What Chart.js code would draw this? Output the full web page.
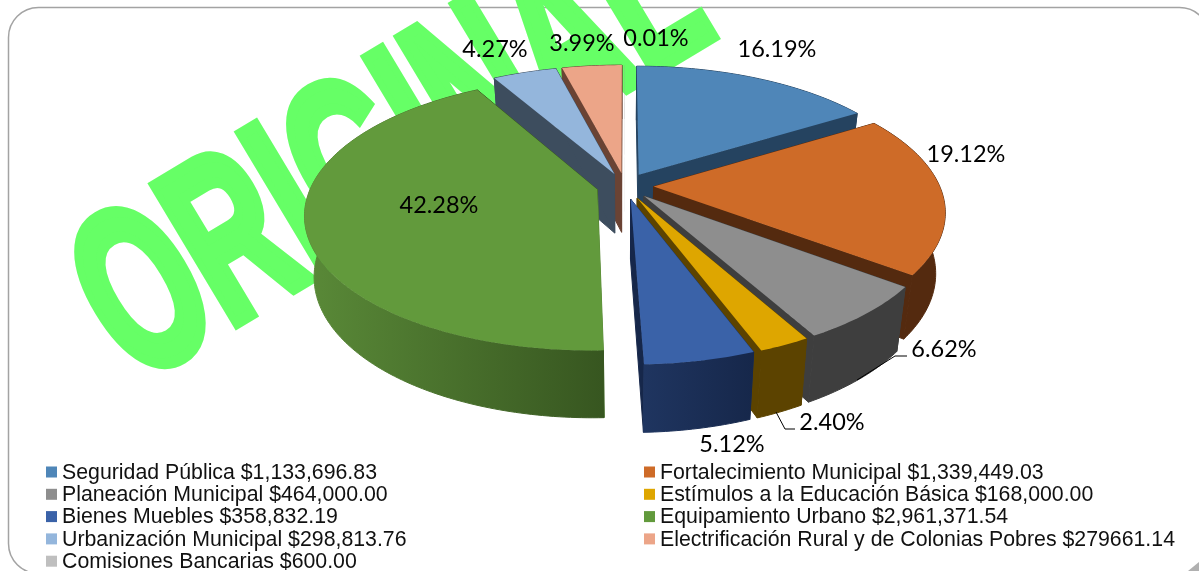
<!DOCTYPE html>
<html>
<head>
<meta charset="utf-8">
<title>Distribución</title>
<script src="https://cdn.jsdelivr.net/npm/chart.js@4"></script>
<style>
  html, body { margin: 0; padding: 0; background: #fff; overflow: hidden; }
  canvas { display: block; }
</style>
</head>
<body>
<canvas id="pie3d" width="1199" height="571"></canvas>
<script>
const categories = ['Seguridad Pública', 'Fortalecimiento Municipal', 'Planeación Municipal', 'Estímulos a la Educación Básica', 'Bienes Muebles', 'Equipamiento Urbano', 'Urbanización Municipal', 'Electrificación Rural y de Colonias Pobres', 'Comisiones Bancarias'];
const amounts = [1133696.83, 1339449.03, 464000.00, 168000.00, 358832.19, 2961371.54, 298813.76, 279661.14, 600.00];
const amountLabels = ['$1,133,696.83', '$1,339,449.03', '$464,000.00', '$168,000.00', '$358,832.19', '$2,961,371.54', '$298,813.76', '$279661.14', '$600.00'];

const topColors = ['#4f86b8', '#ce6b28', '#8e8e8e', '#dea600', '#3a62a8', '#629a3c', '#94b6dc', '#eca588', '#bfbfbf'];
const wallColors = ['#254360', '#542a0f', '#3e3e3e', '#5c4300', '#1f3560', '#5a8a38', '#3d4d5e', '#6a4334', '#6a6a6a'];
const wallDarkColors = ['#254360', '#542a0f', '#3e3e3e', '#5c4300', '#16274a', '#375620', '#3d4d5e', '#6a4334', '#6a6a6a'];

// posicion de cada etiqueta de porcentaje
const labelX = [777, 966, 944, 832, 732, 439, 495, 582, 656];
const labelY = [49, 154, 349, 422, 444, 205, 49, 43, 38];

// proyeccion del disco con perspectiva
const cx = 625, cy = 186, Rx = 286, Ry = 131.2, persp = 0.1755, explode = 0.1;
const total = amounts.reduce(function (a, b) { return a + b; }, 0);

function project(angle, r, mid) {
    const u = Math.cos(angle) * r + Math.cos(mid) * explode;
    const v = Math.sin(angle) * r + Math.sin(mid) * explode;
    const d = 1 - persp * v;
    return [cx + Rx * u / d, cy + Ry * v / d];
}
function lower(p) {
    return [cx + (p[0] - cx) * 0.97, cy + (p[1] - cy) * 1.047 + 59.6];
}
function fillPoly(ctx, pts, color, seam) {
    ctx.beginPath();
    pts.forEach(function (p, i) { i ? ctx.lineTo(p[0], p[1]) : ctx.moveTo(p[0], p[1]); });
    ctx.closePath();
    ctx.fillStyle = color;
    ctx.fill();
    if (seam) {
        // tapa la costura entre paredes
        ctx.strokeStyle = color;
        ctx.lineWidth = 1;
        ctx.stroke();
    }
}

const pie3dPlugin = {
    id: 'pie3d',
    beforeDraw(chart) {
        const ctx = chart.ctx;
        ctx.save();
        ctx.fillStyle = '#fff';
        ctx.fillRect(0, 0, 1199, 571);

        // marco redondeado
        ctx.beginPath();
        ctx.roundRect(8.5, 7.5, 1201, 566, 30);
        ctx.strokeStyle = '#a3a3a3';
        ctx.lineWidth = 1.5;
        ctx.stroke();
        ctx.fillStyle = '#b0b0b0';
        ctx.beginPath();
        ctx.moveTo(1188, 571); ctx.lineTo(1199, 562); ctx.lineTo(1199, 571);
        ctx.fill();

        // marca de agua, queda detras del pastel
        ctx.translate(135, 384);
        ctx.rotate(-31 * Math.PI / 180);
        ctx.scale(0.6, 1);
        ctx.font = 'bold 232px "Liberation Sans"';
        ctx.fillStyle = '#66ff66';
        ctx.strokeStyle = '#66ff66';
        ctx.lineWidth = 12;
        ctx.lineJoin = 'miter';
        ctx.textBaseline = 'alphabetic';
        ctx.fillText('ORIGINAL', 0, 0);
        ctx.strokeText('ORIGINAL', 0, 0);
        ctx.restore();
    },
    beforeDatasetDraw(chart, args) {
        const ctx = chart.ctx;
        const arcs = args.meta.data;
        // de atras hacia adelante
        const order = arcs.map(function (arc, i) { return i; }).sort(function (a, b) {
            const ma = (arcs[a].startAngle + arcs[a].endAngle) / 2;
            const mb = (arcs[b].startAngle + arcs[b].endAngle) / 2;
            return Math.sin(ma) - Math.sin(mb);
        });
        order.forEach(function (i) {
            const arc = arcs[i];
            const mid = (arc.startAngle + arc.endAngle) / 2;
            const steps = Math.max(2, Math.ceil((arc.endAngle - arc.startAngle) * 60));
            const rim = [];
            for (let s = 0; s <= steps; s++) {
                rim.push(project(arc.startAngle + (arc.endAngle - arc.startAngle) * s / steps, 1, mid));
            }
            const tip = project(mid, 0, mid);
            const first = rim[0], last = rim[rim.length - 1];
            // la rebanada de 0.01% casi no se ve, sin trazo
            const seam = arc.endAngle - arc.startAngle > 0.01;

            fillPoly(ctx, [tip, first, lower(first), lower(tip)], wallColors[i], seam);
            fillPoly(ctx, [tip, last, lower(last), lower(tip)], wallDarkColors[i], seam);

            const xs = rim.map(function (p) { return p[0]; });
            const grad = ctx.createLinearGradient(Math.min.apply(null, xs), 0, Math.max.apply(null, xs), 0);
            grad.addColorStop(0, wallColors[i]);
            grad.addColorStop(1, wallDarkColors[i]);
            fillPoly(ctx, rim.concat(rim.map(lower).reverse()), grad, seam);

            fillPoly(ctx, [tip].concat(rim), topColors[i], false);
        });
        return false;
    },
    afterDraw(chart) {
        const ctx = chart.ctx;
        ctx.save();

        // lineas guia
        ctx.strokeStyle = '#000';
        ctx.lineWidth = 1;
        ctx.beginPath();
        ctx.moveTo(857, 380); ctx.lineTo(895, 356); ctx.lineTo(907, 356);
        ctx.moveTo(776, 412); ctx.lineTo(785, 429); ctx.lineTo(795, 429);
        ctx.stroke();

        // porcentajes
        ctx.font = '23.5px Lato';
        ctx.fillStyle = '#000';
        ctx.textAlign = 'center';
        ctx.textBaseline = 'middle';
        amounts.forEach(function (v, i) {
            ctx.fillText((v / total * 100).toFixed(2) + '%', labelX[i], labelY[i]);
        });

        // leyenda en dos columnas
        ctx.font = '21.3px "Liberation Sans"';
        ctx.textAlign = 'left';
        categories.forEach(function (name, i) {
            const col = i % 2, row = Math.floor(i / 2);
            const x = col ? 644 : 46;
            const y = 472 + row * 22.3;
            ctx.fillStyle = topColors[i];
            ctx.fillRect(x, y - 5.5, 11, 11);
            ctx.fillStyle = '#111';
            ctx.fillText(name + ' ' + amountLabels[i], x + 16, y + 1);
        });
        ctx.restore();
    }
};

new Chart(document.getElementById('pie3d'), {
    type: 'pie',
    data: {
        labels: categories,
        datasets: [{ data: amounts, backgroundColor: topColors, borderWidth: 0 }]
    },
    options: {
        responsive: false,
        animation: false,
        events: [],
        plugins: { legend: { display: false }, tooltip: { enabled: false } }
    },
    plugins: [pie3dPlugin]
});
</script>
</body>
</html>
